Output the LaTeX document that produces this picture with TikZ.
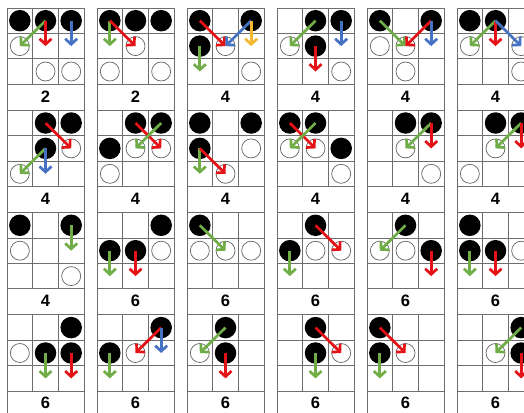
\documentclass[tikz,border=0pt]{standalone}
\usepackage{fontspec}
\setmainfont{Liberation Sans}
\usetikzlibrary{arrows.meta}
\definecolor{ggreen}{RGB}{112,173,71}
\definecolor{rred}{RGB}{228,18,22}
\definecolor{bblue}{RGB}{70,114,196}
\definecolor{yyellow}{RGB}{242,184,48}
\definecolor{gridgray}{RGB}{110,110,110}
\definecolor{stonegray}{RGB}{100,100,100}
\tikzset{
  gridline/.style={draw=gridgray, line width=0.9pt},
  blackstone/.style={circle, fill=black, minimum size=21.5pt, inner sep=0pt},
  whitestone/.style={circle, draw=stonegray, fill=white, line width=0.7pt, minimum size=19pt, inner sep=0pt},
  mvarrow/.style={line width=2.7pt, -{Straight Barb[length=5.5pt,width=12pt]}},
  garrow/.style={mvarrow, draw=ggreen},
  rarrow/.style={mvarrow, draw=rred},
  barrow/.style={mvarrow, draw=bblue},
  yarrow/.style={mvarrow, draw=yyellow},
  lbl/.style={font=\bfseries\fontsize{16.5}{16.5}\selectfont, inner sep=0pt}
}
\newcommand\panelat[3]{%
  \begin{scope}[shift={(7+90*#1,8+102.3*#2)}]
    \draw[gridline] (0,0) rectangle (77,102.3);
    \draw[gridline] (25.67,0) -- (25.67,76.2) (51.33,0) -- (51.33,76.2)
       (0,25.4) -- (77,25.4) (0,50.8) -- (77,50.8) (0,76.2) -- (77,76.2);
    \node[lbl] (L#1#2) at (38.5,88.4) {#3};
    \foreach \r in {1,2,3} {\foreach \c in {1,2,3} {
      \coordinate (c\r\c) at ({25.67*\c-12.83},{25.4*\r-12.7});}}
  \end{scope}}
\newcommand\blk[1]{\foreach \p in {#1} {\node[blackstone] (b\p) at (c\p) {};}}
\newcommand\wht[1]{\foreach \p in {#1} {\node[whitestone] (w\p) at (c\p) {};}}
\newcommand\mv[3]{\draw[#1arrow] (c#2) -- (c#3);}
\begin{document}
\begin{tikzpicture}[x=1pt,y=-1pt]
\useasboundingbox (0,0) rectangle (524,412);
\clip (0,0) rectangle (524,412);
% row 1
\panelat{0}{0}{2}\wht{21,32,33}\blk{11,12,13}\mv{g}{12}{21}\mv{r}{12}{22}\mv{b}{13}{23}
\panelat{1}{0}{2}\wht{22,31,33}\blk{11,12,13}\mv{g}{11}{21}\mv{r}{11}{22}
\panelat{2}{0}{4}\wht{22,33}\blk{11,13,21}\mv{r}{11}{22}\mv{b}{13}{22}\mv{y}{13}{23}\mv{g}{21}{31}
\panelat{3}{0}{4}\wht{21,33}\blk{12,13,22}\mv{g}{12}{21}\mv{b}{13}{23}\mv{r}{22}{32}
\panelat{4}{0}{4}\wht{21,22,32}\blk{11,13}\mv{g}{11}{22}\mv{r}{13}{22}\mv{b}{13}{23}
\panelat{5}{0}{4}\wht{21,23,33}\blk{11,12}\mv{g}{12}{21}\mv{r}{12}{22}\mv{b}{12}{23}
% row 2
\panelat{0}{1}{4}\wht{23,31}\blk{12,13,22}\mv{r}{12}{23}\mv{g}{22}{31}\mv{b}{22}{32}
\panelat{1}{1}{4}\wht{22,23,31}\blk{12,13,21}\mv{r}{12}{23}\mv{g}{13}{22}
\panelat{2}{1}{4}\wht{23,32}\blk{11,13,21}\mv{g}{21}{31}\mv{r}{21}{32}
\panelat{3}{1}{4}\wht{21,22,33}\blk{11,12,23}\mv{r}{11}{22}\mv{g}{12}{21}
\panelat{4}{1}{4}\wht{22,33}\blk{12,13}\mv{g}{13}{22}\mv{r}{13}{23}
\panelat{5}{1}{4}\wht{22,31}\blk{12,13}\mv{g}{13}{22}\mv{r}{13}{23}
% row 3
\panelat{0}{2}{4}\wht{21,33}\blk{11,13}\mv{g}{13}{23}
\panelat{1}{2}{6}\wht{23}\blk{13,21,22}\mv{g}{21}{31}\mv{r}{22}{32}
\panelat{2}{2}{6}\wht{21,22,23}\blk{11}\mv{g}{11}{22}
\panelat{3}{2}{6}\wht{22,23}\blk{12,21}\mv{r}{12}{23}\mv{g}{21}{31}
\panelat{4}{2}{6}\wht{21,22}\blk{12,23}\mv{g}{12}{21}\mv{r}{23}{33}
\panelat{5}{2}{6}\wht{23}\blk{11,21,22}\mv{g}{21}{31}\mv{r}{22}{32}
% row 4
\panelat{0}{3}{6}\wht{21}\blk{13,22,23}\mv{g}{22}{32}\mv{r}{23}{33}
\panelat{1}{3}{6}\wht{22}\blk{13,21}\mv{r}{13}{22}\mv{b}{13}{23}\mv{g}{21}{31}
\panelat{2}{3}{6}\wht{21}\blk{12,22}\mv{g}{12}{21}\mv{r}{22}{32}
\panelat{3}{3}{6}\wht{23}\blk{12,22}\mv{r}{12}{23}\mv{g}{22}{32}
\panelat{4}{3}{6}\wht{22}\blk{11,21}\mv{r}{11}{22}\mv{g}{21}{31}
\panelat{5}{3}{6}\wht{22}\blk{13,23}\mv{g}{13}{22}\mv{r}{23}{33}
\end{tikzpicture}
\end{document}
